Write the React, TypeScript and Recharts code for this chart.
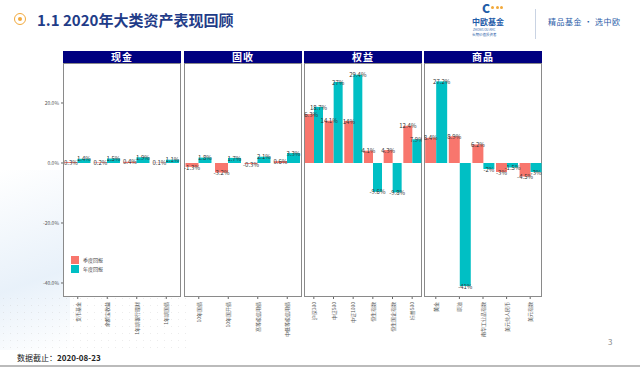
import React from "react";
import { BarChart, Bar, XAxis, YAxis, LabelList } from "recharts";

const cashCats = ["货币基金", "余额宝收益", "1年期银行理财", "1年期国债"];
const cashQuarter = [0.3, 0.2, 0.4, 0.1];
const cashYear = [1.4, 1.5, 1.9, 1.1];

const bondCats = ["10年国债", "10年国开债", "高等级信用债", "中低等级信用债"];
const bondQuarter = [-1.3, -3.2, -0.3, 0.6];
const bondYear = [1.8, 1.7, 2.1, 3.3];

const equityCats = ["沪深300", "中证500", "中证1000", "恒生指数", "恒生国企指数", "标普500"];
const equityQuarter = [16.3, 14.1, 14, 4.1, 4.3, 12.4];
const equityYear = [18.7, 27, 29.4, -9.6, -9.8, 7.9];

const commodityCats = ["黄金", "原油", "南华工业品指数", "美元兑人民币", "美元指数"];
const commodityQuarter = [8.4, 8.9, 6.2, -3, -4.5];
const commodityYear = [27.2, -41, -2, -1.5, -3];

const yTicks = [-40, -20, 0, 20];
const Y_DOMAIN: [number, number] = [-44.67, 33.33];

const RED = "#F8766D";
const TEAL = "#00BFC4";
const FONT = "'Noto Sans CJK SC', 'Noto Sans', sans-serif";

const PLOT_TOP = 63;
const PLOT_H = 234;
const AXIS_H = 40;
const PANEL_W = 118;
const Y_AXIS_W = 30;

const BarLabel = (props: any) => {
  const { x, y, width, height, value } = props;
  const top = Math.min(y, y + height);
  const bottom = Math.max(y, y + height);
  const ty = value >= 0 ? top + 1 : bottom + 1;
  return (
    <text x={x + width / 2} y={ty} textAnchor="middle" dominantBaseline="middle"
      fontSize={6} fill="#333" fontFamily={FONT}>
      {`${value}%`}
    </text>
  );
};

const CatTick = (props: any) => {
  const { x, y, payload } = props;
  return (
    <g transform={`translate(${x},${y})`}>
      <text transform="rotate(-90)" x={-1} dy={2} textAnchor="end" fontSize={5}
        fill="#555" fontFamily={FONT}>
        {payload.value}
      </text>
    </g>
  );
};

const LegendBox = () => (
  <div style={{ position: "absolute", left: 71, top: 255, fontFamily: FONT, fontSize: 5, color: "#444" }}>
    {[{ c: RED, t: "季度回报" }, { c: TEAL, t: "年度回报" }].map(({ c, t }) => (
      <div key={t} style={{ display: "flex", alignItems: "center", height: 9 }}>
        <div style={{ width: 8, height: 8, background: c, marginRight: 4 }} />
        <span>{t}</span>
      </div>
    ))}
  </div>
);

interface PanelProps {
  title: string;
  cats: string[];
  quarter: number[];
  year: number[];
  left: number;
  first?: boolean;
}

const Panel: React.FC<PanelProps> = ({ title, cats, quarter, year, left, first }) => {
  const data = cats.map((name, i) => ({ name, q: quarter[i], y: year[i] }));
  const chartW = PANEL_W + (first ? Y_AXIS_W : 0);
  return (
    <>
      <div style={{
        position: "absolute", left, top: PLOT_TOP - 12, width: PANEL_W, height: 12,
        background: "#000080", color: "#fff", fontFamily: FONT, fontWeight: 700,
        fontSize: 10, lineHeight: "12px", textAlign: "center", letterSpacing: 1,
      }}>{title}</div>
      <div style={{
        position: "absolute", left, top: PLOT_TOP, width: PANEL_W - 2, height: PLOT_H - 2,
        border: "1px solid #8a8a8a", background: "#fff",
      }} />
      <div style={{ position: "absolute", left: left - (first ? Y_AXIS_W : 0), top: PLOT_TOP }}>
        <BarChart width={chartW} height={PLOT_H + AXIS_H} data={data}
          margin={{ top: 0, right: 0, left: 0, bottom: 0 }} barCategoryGap="5%" barGap={0}>
          <XAxis dataKey="name" interval={0} height={AXIS_H} axisLine={false}
            tickLine={{ stroke: "#666" }} tickSize={2} tick={<CatTick />} />
          <YAxis domain={Y_DOMAIN} ticks={yTicks} hide={!first} width={Y_AXIS_W}
            allowDataOverflow axisLine={false} tickLine={{ stroke: "#666" }} tickSize={2}
            tick={{ fontSize: 5, fill: "#555", fontFamily: FONT }}
            tickFormatter={(v: number) => `${v.toFixed(1)}%`} />
          <Bar dataKey="q" name="季度回报" fill={RED} isAnimationActive={false}>
            <LabelList dataKey="q" content={<BarLabel />} />
          </Bar>
          <Bar dataKey="y" name="年度回报" fill={TEAL} isAnimationActive={false}>
            <LabelList dataKey="y" content={<BarLabel />} />
          </Bar>
        </BarChart>
      </div>
    </>
  );
};

export default function App() {
  return (
    <div style={{
      position: "absolute", left: 0, top: 0, width: 640, height: 369, overflow: "hidden",
      background: "#fff", fontFamily: FONT,
    }}>
      {/* faint slide decorations */}
      <div style={{
        position: "absolute", left: 0, top: 170, width: 70, height: 180,
        background: "linear-gradient(160deg, rgba(200,220,240,0) 0%, rgba(190,215,240,0.35) 60%, rgba(200,220,240,0) 100%)",
      }} />
      <div style={{
        position: "absolute", left: 0, top: 295, width: 190, height: 55, opacity: 0.35,
        backgroundImage: "radial-gradient(#c8c8c8 0.8px, transparent 0.9px)", backgroundSize: "7px 7px",
      }} />

      {/* title */}
      <div style={{
        position: "absolute", left: 14, top: 13, width: 12, height: 12, borderRadius: "50%",
        border: "1.5px solid #F2A93B", boxSizing: "border-box",
      }}>
        <div style={{ position: "absolute", left: 2.5, top: 2.5, width: 4, height: 4, borderRadius: "50%", background: "#F2A93B" }} />
      </div>
      <div style={{
        position: "absolute", left: 37, top: 9, fontSize: 15, fontWeight: 700, color: "#1F3C88",
        fontFamily: FONT, whiteSpace: "nowrap",
      }}>1.1 2020年大类资产表现回顾</div>

      {/* logo */}
      <div style={{ position: "absolute", left: 482, top: 1, fontSize: 12, lineHeight: "14px", fontWeight: 900, color: "#1F5CA8" }}>C</div>
      <div style={{ position: "absolute", left: 491, top: 6, display: "flex", gap: 1.5 }}>
        {[0, 1, 2].map((i) => (
          <div key={i} style={{ width: 3, height: 3, borderRadius: "50%", background: "#F2A93B" }} />
        ))}
      </div>
      <div style={{ position: "absolute", left: 472, top: 17, fontSize: 8, lineHeight: "10px", fontWeight: 700, color: "#1F5CA8", whiteSpace: "nowrap" }}>中欧基金</div>
      <div style={{ position: "absolute", left: 473, top: 28, fontSize: 3, lineHeight: "4px", color: "#1F5CA8", whiteSpace: "nowrap" }}>ZHONG OU AMC</div>
      <div style={{ position: "absolute", left: 472, top: 33, fontSize: 3.5, lineHeight: "4px", color: "#1F5CA8", whiteSpace: "nowrap" }}>长期价值投资者</div>
      <div style={{ position: "absolute", left: 535, top: 9, width: 1, height: 30, background: "#c9d3e3" }} />
      <div style={{ position: "absolute", left: 548, top: 16, fontSize: 8, color: "#1F5CA8", whiteSpace: "nowrap", letterSpacing: 0.5 }}>精品基金 · 选中欧</div>

      <Panel title="现金" cats={cashCats} quarter={cashQuarter} year={cashYear} left={63} first />
      <Panel title="固收" cats={bondCats} quarter={bondQuarter} year={bondYear} left={184} />
      <Panel title="权益" cats={equityCats} quarter={equityQuarter} year={equityYear} left={304} />
      <Panel title="商品" cats={commodityCats} quarter={commodityQuarter} year={commodityYear} left={424} />
      <LegendBox />

      {/* footer */}
      <div style={{ position: "absolute", left: 608, top: 336, fontSize: 8, color: "#888" }}>3</div>
      <div style={{ position: "absolute", left: 17, top: 352, fontSize: 8, color: "#222", whiteSpace: "nowrap" }}>
        数据截止：<b>2020-08-23</b>
      </div>
      <div style={{ position: "absolute", left: 0, top: 365, width: 640, height: 2, background: "#bbb" }} />
    </div>
  );
}
